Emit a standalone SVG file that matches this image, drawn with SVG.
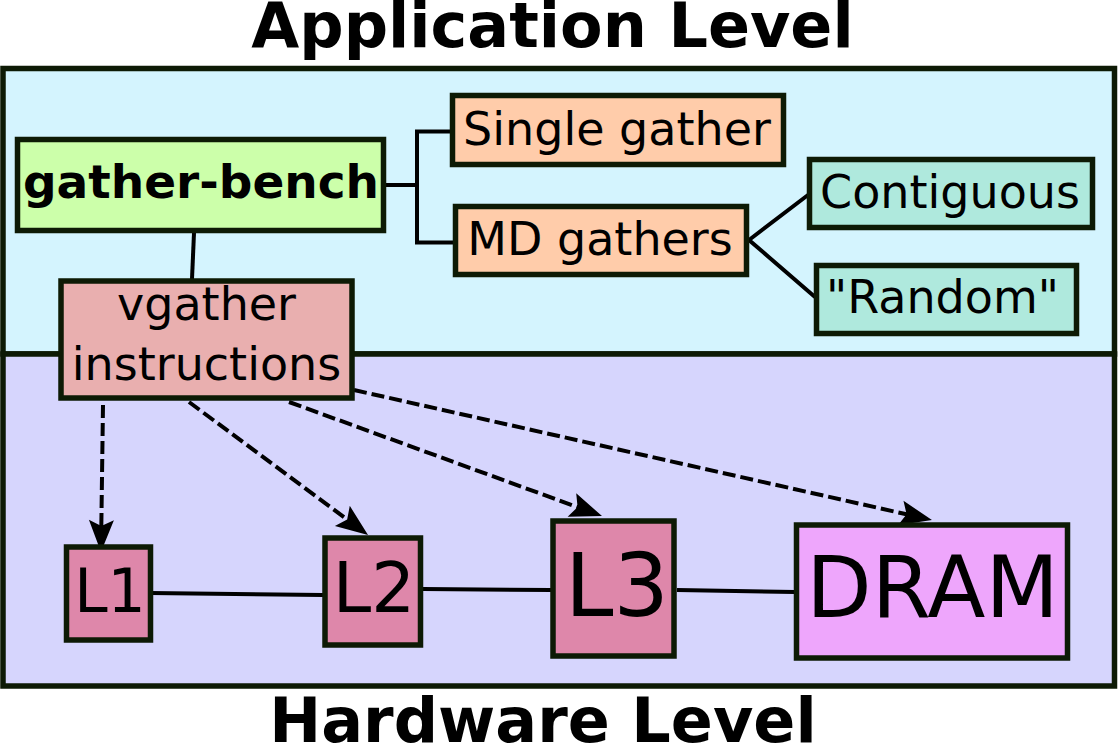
<svg xmlns="http://www.w3.org/2000/svg" width="1118" height="744" viewBox="0 0 1118 744">
<style>
.box{stroke:#0d1a05;stroke-width:5.5}
.t{font-family:"DejaVu Sans",sans-serif;fill:#000;text-anchor:middle}
.b{font-weight:bold}
.ln{fill:none;stroke:#000;stroke-width:4}
.dash{fill:none;stroke:#000;stroke-width:4;stroke-dasharray:13,5}
</style>
<defs>
<marker id="ah" markerUnits="userSpaceOnUse" markerWidth="40" markerHeight="40" refX="0" refY="0" orient="auto" overflow="visible">
<path d="M10,0 L-22,-12.5 L-16,0 L-22,12.5 Z" fill="#000"/>
</marker>
</defs>
<rect width="1118" height="744" fill="#fff"/>
<g id="titles">
<text class="t b" x="552.5" y="47" font-size="62">Application Level</text>
<text class="t b" x="543" y="742" font-size="62">Hardware Level</text>
</g>
<g id="application-level">
<rect x="3" y="68.5" width="1111.5" height="285.5" fill="#d4f4fe" class="box" stroke-width="6"/>
</g>
<g id="hardware-level">
<rect x="3" y="354" width="1111.5" height="332" fill="#d6d5fd" class="box" stroke-width="6"/>
</g>
<g id="connectors">
<path class="ln" d="M194,233 L192,279"/>
<path class="ln" d="M384,185 H417 M417,131 V243 M415,131.5 H451 M415,242.5 H454"/>
<path class="ln" d="M808,195 L749,240 L815,297"/>
<path class="ln" d="M150,593 L323,595"/>
<path class="ln" d="M423,589 L551,590"/>
<path class="ln" d="M677,590 L795,592"/>
<path class="dash" d="M103,405 L101.1,542" marker-end="url(#ah)"/>
<path class="dash" d="M189,402 L360,529" marker-end="url(#ah)"/>
<path class="dash" d="M289,402 L592.6,512.6" marker-end="url(#ah)"/>
<path class="dash" d="M354,390 L922.2,517.8" marker-end="url(#ah)"/>
</g>
<g id="gather-bench">
<rect x="17.5" y="139.5" width="366" height="91" fill="#ccffaa" class="box"/>
<text class="t b" x="201" y="198" font-size="47">gather-bench</text>
</g>
<g id="vgather">
<rect x="61" y="281" width="291" height="117" fill="#e9afaf" class="box" stroke-width="6"/>
<text class="t" x="206.5" y="320" font-size="46">vgather</text>
<text class="t" x="206.5" y="380" font-size="46">instructions</text>
</g>
<g id="single-gather">
<rect x="452.5" y="95.5" width="331" height="69" fill="#ffccaa" class="box"/>
<text class="t" x="617" y="145" font-size="46">Single gather</text>
</g>
<g id="md-gathers">
<rect x="455.5" y="206.5" width="291" height="68" fill="#ffccaa" class="box"/>
<text class="t" x="600" y="255" font-size="46">MD gathers</text>
</g>
<g id="contiguous">
<rect x="809.5" y="159.5" width="283" height="68" fill="#afe9dd" class="box"/>
<text class="t" x="950" y="208" font-size="46">Contiguous</text>
</g>
<g id="random">
<rect x="816.5" y="265.5" width="260" height="68" fill="#afe9dd" class="box"/>
<text class="t" x="942.5" y="313" font-size="46">"Random"</text>
</g>
<g id="L1">
<rect x="66.5" y="547" width="84" height="93" fill="#de87aa" class="box" stroke-width="6"/>
<text class="t" x="110" y="612" font-size="60">L1</text>
</g>
<g id="L2">
<rect x="325" y="538" width="95.5" height="107" fill="#de87aa" class="box" stroke-width="6"/>
<text class="t" x="374" y="612" font-size="69">L2</text>
</g>
<g id="L3">
<rect x="553" y="521" width="121" height="135" fill="#de87aa" class="box" stroke-width="6"/>
<text class="t" x="617" y="616" font-size="87">L3</text>
</g>
<g id="DRAM">
<rect x="796.5" y="525" width="271" height="133" fill="#eea6fc" class="box" stroke-width="6"/>
<text class="t" x="932.5" y="617" font-size="85">DRAM</text>
</g>
</svg>
